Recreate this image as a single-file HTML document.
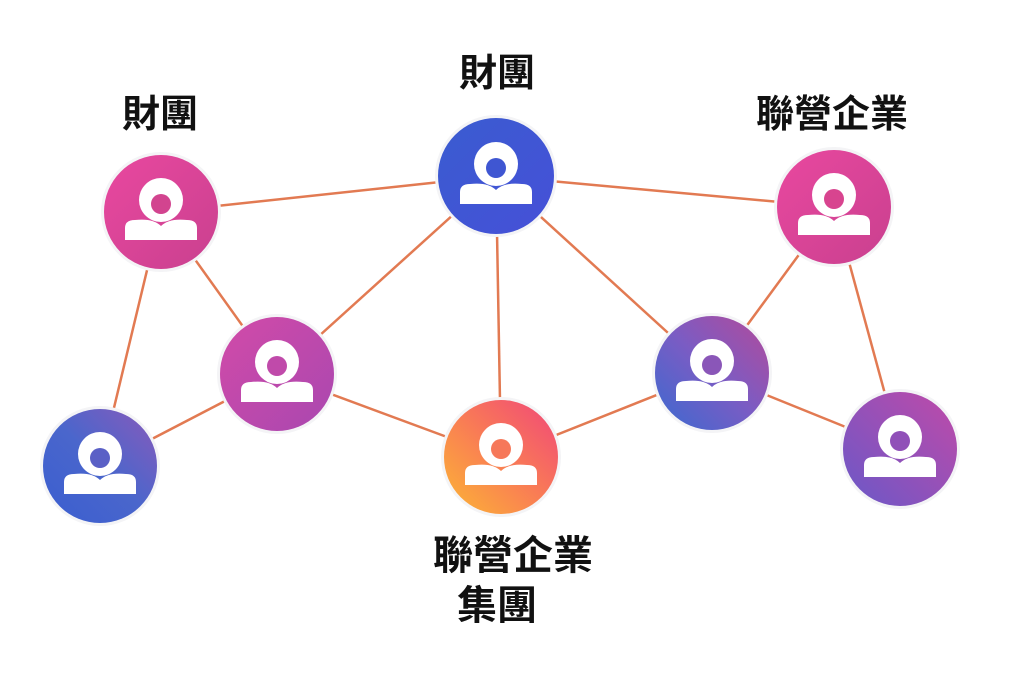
<!DOCTYPE html>
<html><head><meta charset="utf-8"><style>
body{margin:0;background:#fff;width:1024px;height:675px;overflow:hidden}
svg{display:block}
text{font-family:"Liberation Sans","Noto Sans CJK TC",sans-serif;fill:#111;text-anchor:middle;font-weight:bold}
</style></head><body>
<svg width="1024" height="675" viewBox="0 0 1024 675">
<defs>
<linearGradient id="pink" x1="0" y1="0" x2="1" y2="1"><stop offset="0" stop-color="#e9489f"/><stop offset="1" stop-color="#c9408f"/></linearGradient>
<linearGradient id="blue" x1="0" y1="0" x2="1" y2="1"><stop offset="0" stop-color="#3a5cd0"/><stop offset="1" stop-color="#4650d8"/></linearGradient>
<linearGradient id="mag" x1="0" y1="0" x2="1" y2="1"><stop offset="0" stop-color="#d24aa8"/><stop offset="1" stop-color="#a948b0"/></linearGradient>
<linearGradient id="bp" x1="1" y1="0" x2="0" y2="1"><stop offset="0" stop-color="#b44a9a"/><stop offset="0.5" stop-color="#7a5cc4"/><stop offset="1" stop-color="#3a6ad0"/></linearGradient>
<linearGradient id="bl" x1="1" y1="0" x2="0" y2="1"><stop offset="0" stop-color="#8a5aba"/><stop offset="0.5" stop-color="#4a66cc"/><stop offset="1" stop-color="#3a5ed0"/></linearGradient>
<linearGradient id="or" x1="1" y1="0" x2="0" y2="1"><stop offset="0" stop-color="#f0467a"/><stop offset="0.5" stop-color="#f97c55"/><stop offset="1" stop-color="#fcb634"/></linearGradient>
<linearGradient id="pu" x1="1" y1="0" x2="0" y2="1"><stop offset="0" stop-color="#c04aa8"/><stop offset="1" stop-color="#6a58c8"/></linearGradient>
</defs>
<g stroke="#e27a52" stroke-width="2.5" fill="none">
<line x1="161" y1="212" x2="496" y2="176"/>
<line x1="496" y1="176" x2="834" y2="207"/>
<line x1="161" y1="212" x2="277" y2="374"/>
<line x1="161" y1="212" x2="100" y2="466"/>
<line x1="277" y1="374" x2="496" y2="176"/>
<line x1="496" y1="176" x2="501" y2="457"/>
<line x1="496" y1="176" x2="712" y2="373"/>
<line x1="834" y1="207" x2="712" y2="373"/>
<line x1="834" y1="207" x2="900" y2="449"/>
<line x1="277" y1="374" x2="100" y2="466"/>
<line x1="277" y1="374" x2="501" y2="457"/>
<line x1="501" y1="457" x2="712" y2="373"/>
<line x1="712" y1="373" x2="900" y2="449"/>
</g>
<g>
<g transform="translate(161,212)"><circle r="60" fill="#f4f4f6"/><circle r="57" fill="url(#pink)"/><circle cy="-12" r="22" fill="#fff"/><circle cy="-8" r="10" fill="#d2448f"/><path d="M-36,28 V16 Q-36,8 -26,8 Q-8,6 0,14 Q8,6 26,8 Q36,8 36,16 V28 Z" fill="#fff"/></g>
<g transform="translate(496,176)"><circle r="61" fill="#f4f4f6"/><circle r="58" fill="url(#blue)"/><circle cy="-12" r="22" fill="#fff"/><circle cy="-8" r="10" fill="#3f56d2"/><path d="M-36,28 V16 Q-36,8 -26,8 Q-8,6 0,14 Q8,6 26,8 Q36,8 36,16 V28 Z" fill="#fff"/></g>
<g transform="translate(834,207)"><circle r="60" fill="#f4f4f6"/><circle r="57" fill="url(#pink)"/><circle cy="-12" r="22" fill="#fff"/><circle cy="-8" r="10" fill="#d8448f"/><path d="M-36,28 V16 Q-36,8 -26,8 Q-8,6 0,14 Q8,6 26,8 Q36,8 36,16 V28 Z" fill="#fff"/></g>
<g transform="translate(277,374)"><circle r="60" fill="#f4f4f6"/><circle r="57" fill="url(#mag)"/><circle cy="-12" r="22" fill="#fff"/><circle cy="-8" r="10" fill="#c04aaa"/><path d="M-36,28 V16 Q-36,8 -26,8 Q-8,6 0,14 Q8,6 26,8 Q36,8 36,16 V28 Z" fill="#fff"/></g>
<g transform="translate(712,373)"><circle r="60" fill="#f4f4f6"/><circle r="57" fill="url(#bp)"/><circle cy="-12" r="22" fill="#fff"/><circle cy="-8" r="10" fill="#8a56b8"/><path d="M-36,28 V16 Q-36,8 -26,8 Q-8,6 0,14 Q8,6 26,8 Q36,8 36,16 V28 Z" fill="#fff"/></g>
<g transform="translate(100,466)"><circle r="60" fill="#f4f4f6"/><circle r="57" fill="url(#bl)"/><circle cy="-12" r="22" fill="#fff"/><circle cy="-8" r="10" fill="#5a60c6"/><path d="M-36,28 V16 Q-36,8 -26,8 Q-8,6 0,14 Q8,6 26,8 Q36,8 36,16 V28 Z" fill="#fff"/></g>
<g transform="translate(501,457)"><circle r="60" fill="#f4f4f6"/><circle r="57" fill="url(#or)"/><circle cy="-12" r="22" fill="#fff"/><circle cy="-8" r="10" fill="#f6785a"/><path d="M-36,28 V16 Q-36,8 -26,8 Q-8,6 0,14 Q8,6 26,8 Q36,8 36,16 V28 Z" fill="#fff"/></g>
<g transform="translate(900,449)"><circle r="60" fill="#f4f4f6"/><circle r="57" fill="url(#pu)"/><circle cy="-12" r="22" fill="#fff"/><circle cy="-8" r="10" fill="#9050b8"/><path d="M-36,28 V16 Q-36,8 -26,8 Q-8,6 0,14 Q8,6 26,8 Q36,8 36,16 V28 Z" fill="#fff"/></g>
</g>
<text x="160" y="127" font-size="38">財團</text>
<text x="497" y="86" font-size="38">財團</text>
<text x="832" y="127" font-size="38">聯營企業</text>
<text x="513" y="569" font-size="40">聯營企業</text>
<text x="497" y="619" font-size="40">集團</text>
</svg>
</body></html>
